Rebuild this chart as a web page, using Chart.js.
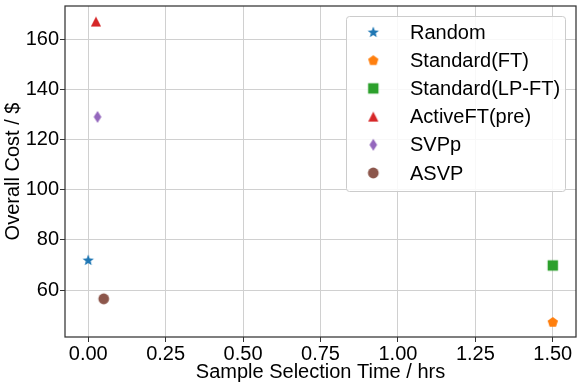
<!DOCTYPE html>
<html>
<head>
<meta charset="utf-8">
<script src="https://cdn.jsdelivr.net/npm/chart.js@4/dist/chart.umd.min.js"></script>
<style>
  html, body { margin: 0; padding: 0; background: #fff; }
  #wrap { width: 582px; height: 388px; }
</style>
</head>
<body>
<div id="wrap"><canvas id="costChart" width="582" height="388"></canvas></div>
<script>
const methods = ["Random", "Standard(FT)", "Standard(LP-FT)", "ActiveFT(pre)", "SVPp", "ASVP"]
const selectionTime = [0, 1.5, 1.5, 0.025, 0.03, 0.05]
const overallCost = [72, 47.3, 69.8, 167, 129, 56.5]
const xTicks = [0, 0.25, 0.5, 0.75, 1.0, 1.25, 1.5]
const yTicks = [60, 80, 100, 120, 140, 160]

const colors = ["#1f77b4", "#ff7f0e", "#2ca02c", "#d62728", "#9467bd", "#8c564b"]
const shapes = ["star", "pentagon", "square", "triangle", "thinDiamond", "circle"]

const FONT = { family: "'Liberation Sans', Arial, sans-serif", size: 20 }

// little canvases used as point styles (chart.js has no filled star / pentagon)
function makeMarker(shape, color) {
  const c = document.createElement("canvas")
  c.width = 16
  c.height = 16
  const g = c.getContext("2d")
  g.fillStyle = color
  g.translate(8, 8)
  g.beginPath()
  if (shape === "star") {
    for (let i = 0; i < 10; i++) {
      const r = i % 2 ? 2.6 : 5.9
      const a = -Math.PI / 2 + i * Math.PI / 5
      g.lineTo(r * Math.cos(a), r * Math.sin(a) + 0.5)
    }
  } else if (shape === "pentagon") {
    for (let i = 0; i < 5; i++) {
      const a = -Math.PI / 2 + i * 2 * Math.PI / 5
      g.lineTo(5.4 * Math.cos(a), 5.4 * Math.sin(a) + 0.5)
    }
  } else if (shape === "square") {
    g.rect(-5.2, -5.2, 10.4, 10.4)
  } else if (shape === "triangle") {
    g.moveTo(0, -5.1)
    g.lineTo(5.1, 5.1)
    g.lineTo(-5.1, 5.1)
  } else if (shape === "thinDiamond") {
    g.moveTo(0, -6.1)
    g.lineTo(3.8, 0)
    g.lineTo(0, 6.1)
    g.lineTo(-3.8, 0)
  } else {
    g.arc(0, 0, 5.4, 0, Math.PI * 2)
  }
  g.closePath()
  g.fill()
  return c
}

const frame = {
  id: "frame",
  afterDatasetsDraw(chart) {
    const { ctx, chartArea: a } = chart
    ctx.save()
    ctx.strokeStyle = "#333"
    ctx.lineWidth = 1.25
    ctx.strokeRect(a.left, a.top, a.right - a.left, a.bottom - a.top)
    ctx.restore()
  }
}

const legendBox = {
  id: "legendBox",
  afterDatasetsDraw(chart) {
    const { ctx, chartArea } = chart
    const w = 219, h = 175
    const x = chartArea.right - 11 - w
    const y = chartArea.top + 10
    ctx.save()
    ctx.beginPath()
    ctx.roundRect(x + 0.5, y + 0.5, w, h, 3)
    ctx.fillStyle = "rgba(255,255,255,0.85)"
    ctx.fill()
    ctx.strokeStyle = "#cccccc"
    ctx.lineWidth = 1
    ctx.stroke()
    ctx.font = "20px 'Liberation Sans', Arial, sans-serif"
    ctx.fillStyle = "#000"
    ctx.textBaseline = "middle"
    chart.data.datasets.forEach((ds, i) => {
      const cy = y + 16 + i * 28.2
      const img = ds.pointStyle
      ctx.drawImage(img, x + 27.3 - img.width / 2, cy - img.height / 2)
      ctx.fillText(ds.label, x + 64, cy + 1)
    })
    ctx.restore()
  }
}

function axis(title, min, max, ticks, fmt, tickPad, titlePad, fit) {
  return {
    type: "linear",
    min: min,
    max: max,
    afterBuildTicks: s => { s.ticks = ticks.map(v => ({ value: v })) },
    afterFit: fit,
    ticks: { callback: fmt, font: FONT, color: "#000", padding: tickPad, maxRotation: 0, autoSkip: false },
    grid: { color: "#d0d0d0", lineWidth: 1, drawTicks: true, tickLength: 5, tickColor: "#333", tickWidth: 1 },
    border: { display: false },
    title: { display: true, text: title, font: FONT, color: "#000", padding: titlePad }
  }
}

new Chart(document.getElementById("costChart"), {
  type: "scatter",
  data: {
    datasets: methods.map((m, i) => ({
      label: m,
      data: [{ x: selectionTime[i], y: overallCost[i] }],
      pointStyle: makeMarker(shapes[i], colors[i]),
      backgroundColor: colors[i],
      borderColor: colors[i],
      pointRadius: 5,
      pointHoverRadius: 5
    }))
  },
  options: {
    responsive: false,
    animation: false,
    devicePixelRatio: 1,
    events: [],
    layout: { padding: { left: 0, right: 5, top: 5, bottom: 0 } },
    plugins: { legend: { display: false }, tooltip: { enabled: false } },
    scales: {
      x: axis("Sample Selection Time / hrs", -0.075, 1.575, xTicks, v => v.toFixed(2), 0,
        { top: 0, bottom: 4 }, s => { s.height = 51; s.paddingLeft = 0; s.paddingRight = 0 }),
      y: axis("Overall Cost / $", 41.3, 173.2, yTicks, v => String(v), 1,
        { top: 1, bottom: 0 }, s => { s.width = 65; s.paddingTop = 0; s.paddingBottom = 0 })
    }
  },
  plugins: [frame, legendBox]
})
</script>
</body>
</html>
